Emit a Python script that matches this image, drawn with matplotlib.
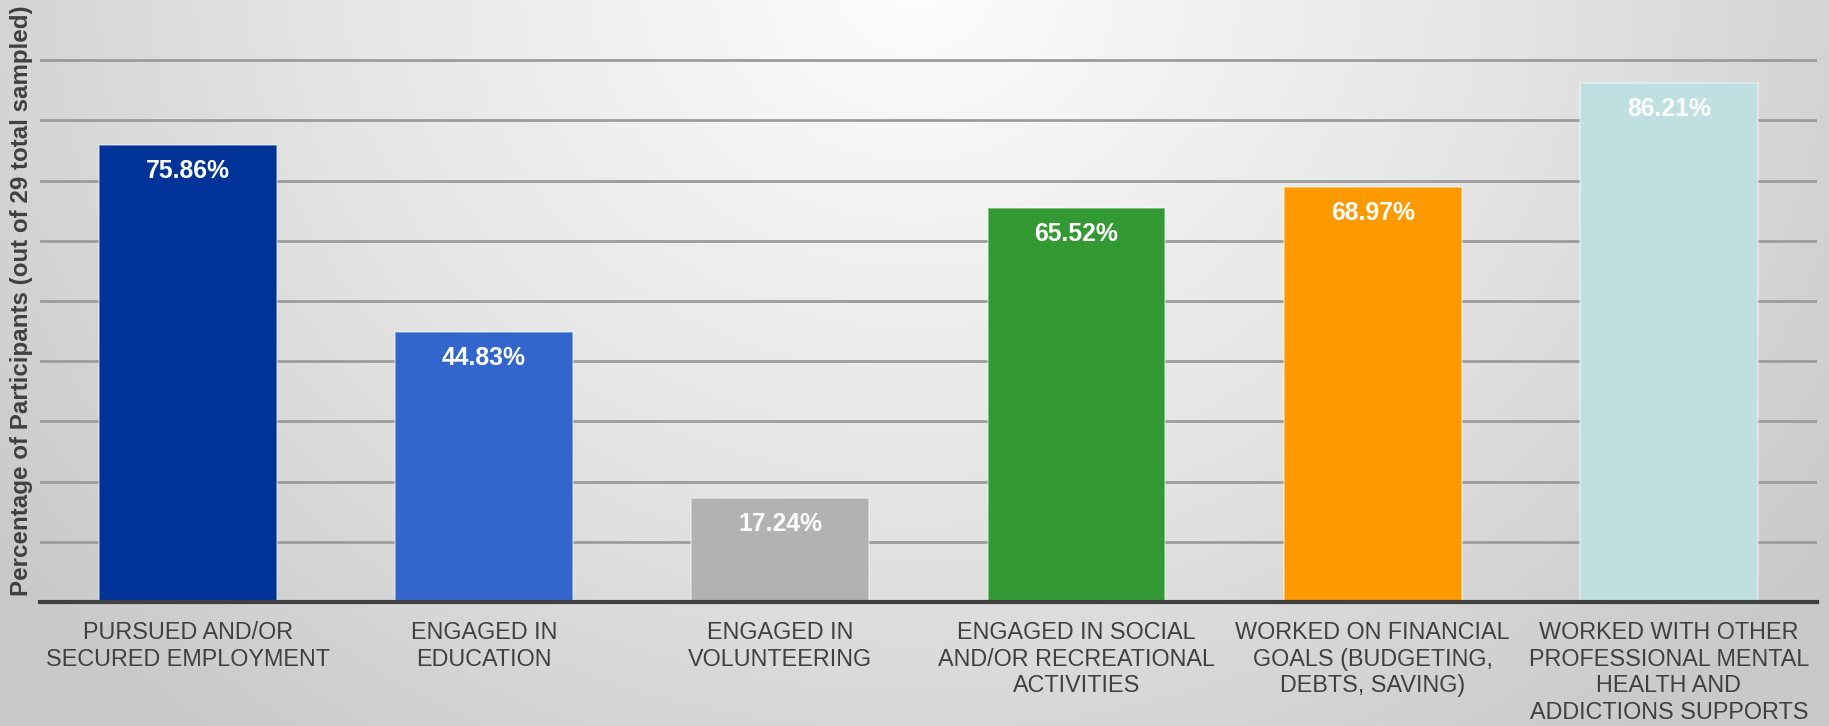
import numpy as np
import matplotlib
matplotlib.use("Agg")
import matplotlib.pyplot as plt
from matplotlib.colors import LinearSegmentedColormap

categories = [
    "PURSUED AND/OR\nSECURED EMPLOYMENT",
    "ENGAGED IN\nEDUCATION",
    "ENGAGED IN\nVOLUNTEERING",
    "ENGAGED IN SOCIAL\nAND/OR RECREATIONAL\nACTIVITIES",
    "WORKED ON FINANCIAL\nGOALS (BUDGETING,\nDEBTS, SAVING)",
    "WORKED WITH OTHER\nPROFESSIONAL MENTAL\nHEALTH AND\nADDICTIONS SUPPORTS",
]
percentages = [75.86, 44.83, 17.24, 65.52, 68.97, 86.21]
bar_colors = ["#00339A", "#3366CC", "#B2B2B2", "#339933", "#FF9900", "#BFDFE1"]

plt.rcParams["font.family"] = ["Liberation Sans", "DejaVu Sans"]

W, H, DPI = 1829, 726, 100
fig = plt.figure(figsize=(W / DPI, H / DPI), dpi=DPI)

# radial grey-to-white backdrop, brightest at the top centre
bg = fig.add_axes([0, 0, 1, 1], zorder=-10)
yy, xx = np.mgrid[0:1:300j, 0:1:700j]
dx = (xx - 0.5) / 0.62
dy = (yy - 1.02) / 1.35
r = np.clip(np.sqrt(dx ** 2 + dy ** 2), 0, 1)
cmap = LinearSegmentedColormap.from_list("bgfade", ["#FDFDFD", "#E6E6E6", "#C9C9C9"])
bg.imshow(r, cmap=cmap, origin="lower", extent=[0, 1, 0, 1], aspect="auto",
          vmin=0, vmax=1)
bg.set_axis_off()

ax = fig.add_axes([39.7 / W, 1 - 602 / H, (1817 - 39.7) / W, 602 / H])
ax.set_facecolor("none")

x = np.arange(len(categories))
ax.bar(x, percentages, width=0.6, color=bar_colors, edgecolor=(1, 1, 1, 0.45),
       linewidth=1.2, zorder=3)

for xi, v in zip(x, percentages):
    ax.annotate(f"{v:.2f}%", (xi, v), xytext=(0, -18.7), textcoords="offset points",
                ha="center", va="center", color="white", fontsize=17.8,
                fontweight="bold", zorder=4)

ax.set_xlim(-0.5, len(categories) - 0.5)
ax.set_ylim(0, 100)
ax.set_yticks(np.arange(10, 100, 10))
ax.yaxis.grid(True, color="#9C9C9C", linewidth=2.0, zorder=1)
ax.tick_params(axis="y", left=False, labelleft=False)
ax.tick_params(axis="x", bottom=False, pad=10)
ax.set_xticks(x)
ax.set_xticklabels(categories, fontsize=16.8, color="#404040", linespacing=1.21)

for side in ["top", "right", "left"]:
    ax.spines[side].set_visible(False)
ax.spines["bottom"].set_color("#404040")
ax.spines["bottom"].set_linewidth(3)
ax.spines["bottom"].set_zorder(5)

fig.text(22 / W, 1 - 301 / H, "Percentage of Participants (out of 29 total sampled)",
         rotation=90, ha="center", va="center", fontsize=17.4, fontweight="bold",
         color="#404040")

fig.savefig("out.png", dpi=DPI)
